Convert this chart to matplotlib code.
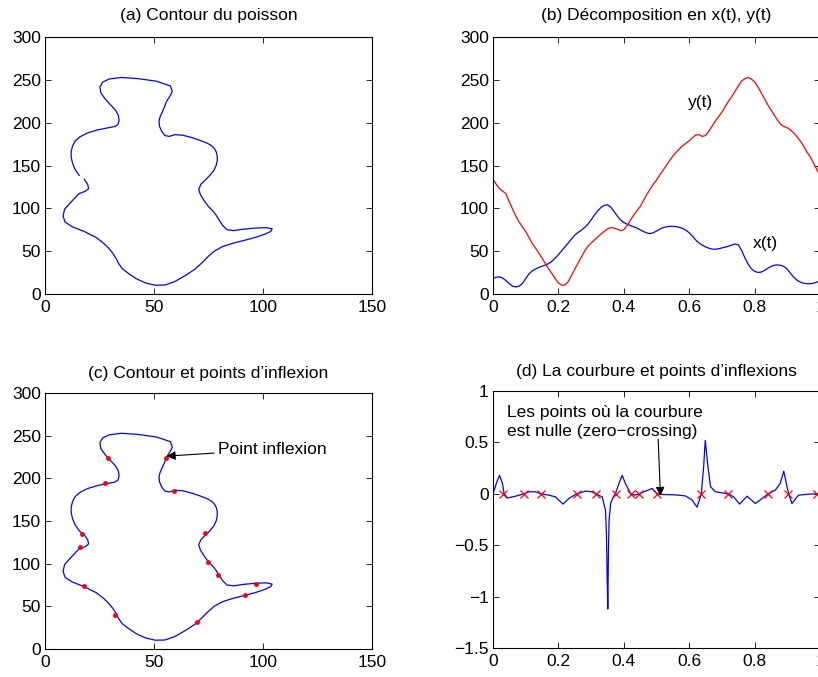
import numpy as np
import matplotlib
matplotlib.use('Agg')
import matplotlib.pyplot as plt

plt.rcParams['font.family'] = ['Liberation Sans', 'DejaVu Sans']

# parameter t (0 .. 1 step 0.01) and the contour coordinates x(t), y(t)
t = np.round(np.arange(101) * 0.01, 2)
x_t = [18.0, 19.6, 20.0, 18.5, 15.5, 12.0, 9.0, 8.3, 9.2, 12.5,
       18.0, 23.5, 27.0, 29.2, 31.0, 32.5, 33.8, 35.5, 38.3, 41.8,
       46.0, 50.5, 55.0, 59.5, 64.3, 68.8, 71.8, 74.5, 77.6, 81.5,
       86.5, 92.0, 97.0, 101.0, 103.5, 104.2, 101.5, 96.5, 91.0, 86.5,
       83.5, 81.5, 80.0, 78.5, 77.0, 75.0, 73.0, 71.3, 70.5, 71.5,
       73.5, 75.8, 77.5, 78.5, 79.0, 79.0, 78.6, 77.8, 76.5, 74.5,
       71.5, 67.5, 63.0, 59.5, 57.0, 55.0, 53.5, 52.5, 52.3, 52.8,
       53.8, 54.8, 55.8, 57.2, 58.4, 57.5, 51.0, 42.5, 35.0, 29.5,
       26.5, 25.2, 25.6, 27.5, 30.0, 32.2, 33.6, 34.0, 33.5, 32.0,
       28.8, 24.0, 19.5, 16.0, 13.8, 12.6, 12.0, 12.0, 12.6, 13.8,
       15.7]
y_t = [134.0, 128.0, 123.0, 120.0, 117.0, 107.5, 99.0, 91.0, 84.0, 78.5,
       73.0, 66.0, 59.0, 53.5, 48.0, 42.0, 35.5, 29.5, 24.0, 18.0,
       13.0, 10.3, 10.5, 14.5, 21.5, 29.0, 36.0, 43.0, 50.0, 55.5,
       59.5, 63.0, 66.5, 70.0, 73.0, 76.0, 77.5, 77.0, 75.7, 74.0,
       75.0, 80.0, 86.0, 92.0, 97.0, 102.0, 109.0, 116.0, 122.0, 128.0,
       133.0, 139.0, 144.5, 150.0, 155.5, 161.0, 165.5, 169.5, 173.0, 176.0,
       179.0, 182.5, 185.5, 186.0, 184.0, 185.0, 190.0, 196.0, 202.0, 207.0,
       212.5, 218.5, 225.0, 230.5, 236.5, 243.0, 248.5, 251.5, 252.8, 251.0,
       247.5, 242.0, 235.0, 228.0, 221.0, 215.0, 209.0, 203.0, 198.0, 195.5,
       194.0, 191.5, 188.0, 183.5, 178.5, 172.5, 166.0, 160.0, 153.0, 145.5,
       138.5]

# inflection points on the contour
infl_x = [29.0, 27.7, 17.0, 16.2, 18.0, 32.0, 69.9, 91.7, 96.9, 79.5, 74.9, 73.3, 59.3, 55.4]
infl_y = [223.5, 194.2, 135.2, 119.2, 73.5, 39.5, 31.7, 62.9, 75.8, 86.8, 101.6, 136.4, 185.2, 224.3]

# curvature k(t)
curv_t = [0.0, 0.01, 0.02, 0.029, 0.034, 0.044, 0.069, 0.095, 0.11, 0.13,
          0.147, 0.171, 0.191, 0.214, 0.232, 0.256, 0.283, 0.303, 0.314, 0.334,
          0.344, 0.347, 0.349, 0.351, 0.353, 0.355, 0.360, 0.368, 0.374, 0.385,
          0.395, 0.405, 0.421, 0.434, 0.446, 0.466, 0.487, 0.502, 0.517, 0.558,
          0.588, 0.609, 0.624, 0.637, 0.644, 0.649, 0.656, 0.665, 0.68, 0.719,
          0.736, 0.754, 0.777, 0.802, 0.823, 0.841, 0.863, 0.878, 0.889, 0.897,
          0.904, 0.914, 0.934, 0.965, 1.0]
curv_k = [0.0, 0.1, 0.18, 0.1, 0.0, -0.04, -0.023, 0.0, 0.02, 0.02,
          0.0, -0.013, -0.03, -0.1, -0.045, 0.0, 0.026, 0.02, 0.0, -0.03,
          -0.16, -0.4, -0.8, -1.12, -0.55, -0.25, -0.09, -0.03, 0.0, 0.1,
          0.18, 0.1, 0.0, -0.013, 0.0, 0.026, 0.052, 0.0, -0.006, -0.01,
          -0.02, -0.06, -0.13, 0.0, 0.26, 0.52, 0.3, 0.07, 0.02, 0.0,
          -0.03, -0.1, -0.023, -0.094, -0.045, 0.0, 0.036, 0.1, 0.22, 0.1,
          0.0, -0.094, -0.013, -0.003, 0.0]

# zero crossings of the curvature
zc_t = [0.032, 0.095, 0.147, 0.256, 0.314, 0.375, 0.421, 0.446, 0.502, 0.637, 0.719, 0.841, 0.902, 0.992]
zc_k = [0.0] * len(zc_t)

t_ticks = [0, 0.2, 0.4, 0.6, 0.8, 1.0]
t_labels = ['0', '0.2', '0.4', '0.6', '0.8', '1']
xy_ticks = [0, 50, 100, 150, 200, 250, 300]
k_ticks = [-1.5, -1, -0.5, 0, 0.5, 1]
k_labels = ['\u22121.5', '\u22121', '\u22120.5', '0', '0.5', '1']

FS = 12.5


def style(ax):
    ax.tick_params(direction='in', top=True, right=True, length=4, width=0.6,
                   labelsize=FS)
    ax.tick_params(axis='y', pad=3)
    ax.tick_params(axis='x', pad=4)
    for s in ax.spines.values():
        s.set_linewidth(0.8)


fig = plt.figure(figsize=(8.18, 6.77), dpi=100)

# (a)
ax1 = fig.add_axes([0.0550, 0.5657, 0.3998, 0.3796])
ax1.plot(x_t, y_t, color='b', lw=0.9)
ax1.set_xlim(0, 150)
ax1.set_ylim(0, 300)
ax1.set_xticks([0, 50, 100, 150])
ax1.set_yticks(xy_ticks)
ax1.set_title('(a) Contour du poisson', fontsize=FS, pad=12)
style(ax1)

# (b)
ax2 = fig.add_axes([0.6027, 0.5657, 0.3998, 0.3796])
ax2.plot(t, x_t, color='b', lw=0.9)
ax2.plot(t, y_t, color='r', lw=0.9)
ax2.set_xlim(0, 1)
ax2.set_ylim(0, 300)
ax2.set_xticks(t_ticks, t_labels)
ax2.set_yticks(xy_ticks)
ax2.text(0.634, 224, 'y(t)', fontsize=FS, ha='center', va='center')
ax2.text(0.833, 59, 'x(t)', fontsize=FS, ha='center', va='center')
ax2.set_title('(b) D\u00e9composition en x(t), y(t)', fontsize=FS, pad=12)
style(ax2)

# (c)
ax3 = fig.add_axes([0.0550, 0.0414, 0.3998, 0.3781])
ax3.plot(x_t + [x_t[0]], y_t + [y_t[0]], color='b', lw=0.9)
ax3.plot(infl_x, infl_y, 'r.', ms=5)
ax3.set_xlim(0, 150)
ax3.set_ylim(0, 300)
ax3.set_xticks([0, 50, 100, 150])
ax3.set_yticks(xy_ticks)
ax3.annotate('Point inflexion', xy=(55.8, 226), xytext=(79.5, 234),
             fontsize=FS, va='center', ha='left',
             arrowprops=dict(arrowstyle='-|>', color='k', lw=0.8,
                             mutation_scale=13, shrinkA=1, shrinkB=0))
ax3.set_title('(c) Contour et points d\u2019inflexion', fontsize=FS, pad=11)
style(ax3)

# (d)
ax4 = fig.add_axes([0.6027, 0.0428, 0.3998, 0.3796])
ax4.plot(curv_t, curv_k, color='b', lw=0.9)
ax4.plot(zc_t, zc_k, 'rx', ms=6, mew=0.9)
ax4.set_xlim(0, 1)
ax4.set_ylim(-1.5, 1)
ax4.set_xticks(t_ticks, t_labels)
ax4.set_yticks(k_ticks, k_labels)
ax4.text(0.042, 0.70, 'Les points o\u00f9 la courbure\nest nulle (zero\u2212crossing)',
         fontsize=FS, ha='left', va='center', linespacing=1.3)
ax4.annotate('', xy=(0.512, -0.02), xytext=(0.505, 0.53),
             arrowprops=dict(arrowstyle='-|>', color='k', lw=0.8,
                             mutation_scale=13, shrinkA=0, shrinkB=0))
ax4.set_title('(d) La courbure et points d\u2019inflexions', fontsize=FS, pad=11)
style(ax4)

fig.savefig('out.png', dpi=100)
